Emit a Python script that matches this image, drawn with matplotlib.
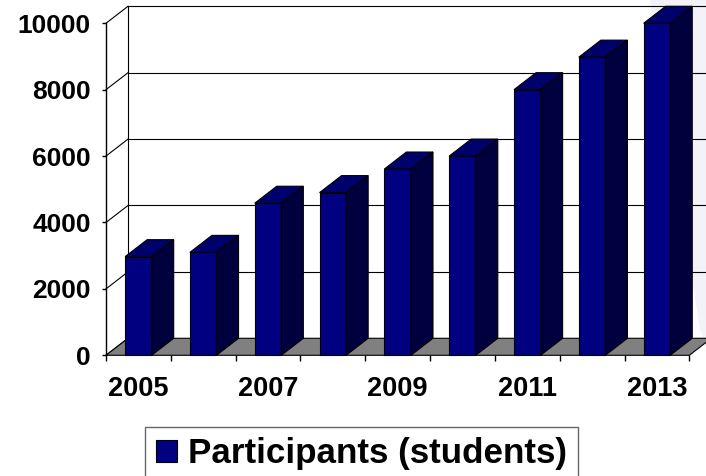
import matplotlib.pyplot as plt
from matplotlib.patches import Polygon, Patch

plt.rcParams['font.family'] = ['Liberation Sans', 'DejaVu Sans']
plt.rcParams['font.weight'] = 'bold'

# Data
years = ["2005", "2006", "2007", "2008", "2009", "2010", "2011", "2012", "2013"]
participants = [2970, 3100, 4580, 4900, 5610, 6000, 8000, 8980, 10000]
y_ticks = [0, 2000, 4000, 6000, 8000, 10000]
series_name = "Participants (students)"

front_color = "#000080"
top_color = "#00006c"
side_color = "#00003f"
floor_color = "#808080"

n = len(years)
bar_w = 0.41
dx = 0.34   # depth of the 3D box, in category units
dy = 512    # depth of the 3D box, in value units

fig = plt.figure(figsize=(7.06, 4.76), dpi=100)

# faint watermark shape in the background at the right edge
W, H = 706, 476
mark = Polygon([(650 / W, 1), (1, 1), (1, 1 - 345 / H), (700 / W, 1 - 330 / H)], closed=True,
               transform=fig.transFigure, facecolor="#f2f2f8", edgecolor="none", zorder=-1)
fig.patches.append(mark)

ax = fig.add_axes([0.1501, 0.2536, 0.8263, 0.6975])
ax.set_xlim(0, n)
ax.set_ylim(0, 10000)
ax.patch.set_visible(False)

for s in ["top", "right", "bottom"]:
    ax.spines[s].set_visible(False)
ax.spines["left"].set_linewidth(1)
ax.spines["left"].set_zorder(4)

# back wall: gridlines, left edge, diagonals on the side wall
for v in y_ticks:
    ax.plot([0, dx], [v, v + dy], color="black", lw=0.8, clip_on=False, zorder=1)
    if v > 0:
        ax.plot([dx, n + dx], [v + dy, v + dy], color="black", lw=0.8, clip_on=False, zorder=1)
ax.plot([dx, dx], [dy, y_ticks[-1] + dy], color="black", lw=0.8, clip_on=False, zorder=1)

# floor
floor = Polygon([(0, 0), (n, 0), (n + dx, dy), (dx, dy)], closed=True,
                facecolor=floor_color, edgecolor="black", lw=0.8, clip_on=False, zorder=2)
ax.add_patch(floor)

# bars: front face with ax.bar, top and side as polygons
centers = [i + 0.5 for i in range(n)]
ax.bar(centers, participants, width=bar_w, color=front_color, edgecolor="black",
       lw=0.8, zorder=3, clip_on=False)
for c, v in zip(centers, participants):
    x0 = c - bar_w / 2
    x1 = c + bar_w / 2
    top = Polygon([(x0, v), (x1, v), (x1 + dx, v + dy), (x0 + dx, v + dy)], closed=True,
                  facecolor=top_color, edgecolor="black", lw=0.8, clip_on=False, zorder=3)
    side = Polygon([(x1, 0), (x1 + dx, dy), (x1 + dx, v + dy), (x1, v)], closed=True,
                   facecolor=side_color, edgecolor="black", lw=0.8, clip_on=False, zorder=3)
    ax.add_patch(top)
    ax.add_patch(side)

# axes ticks
ax.set_yticks(y_ticks)
ax.set_yticklabels([str(t) for t in y_ticks])
ax.tick_params(axis="y", direction="out", length=3, width=1, pad=8, labelsize=19)

ax.set_xticks(centers[::2])
ax.set_xticklabels(years[::2])
ax.set_xticks(range(n + 1), minor=True)
ax.tick_params(axis="x", which="major", length=0, pad=15, labelsize=19.5)
ax.tick_params(axis="x", which="minor", direction="out", length=4, width=1)

# legend
handle = Patch(facecolor=front_color, edgecolor="black", lw=0.8, label=series_name)
fig.legend(handles=[handle], loc="upper left", bbox_to_anchor=(145 / 706, 1 - 426.7 / 476),
           fontsize=25.2, frameon=True, fancybox=False, edgecolor="#404040",
           borderpad=0.3, handlelength=0.62, handleheight=0.62, handletextpad=0.31,
           borderaxespad=0)

fig.savefig("out.png", dpi=100)
